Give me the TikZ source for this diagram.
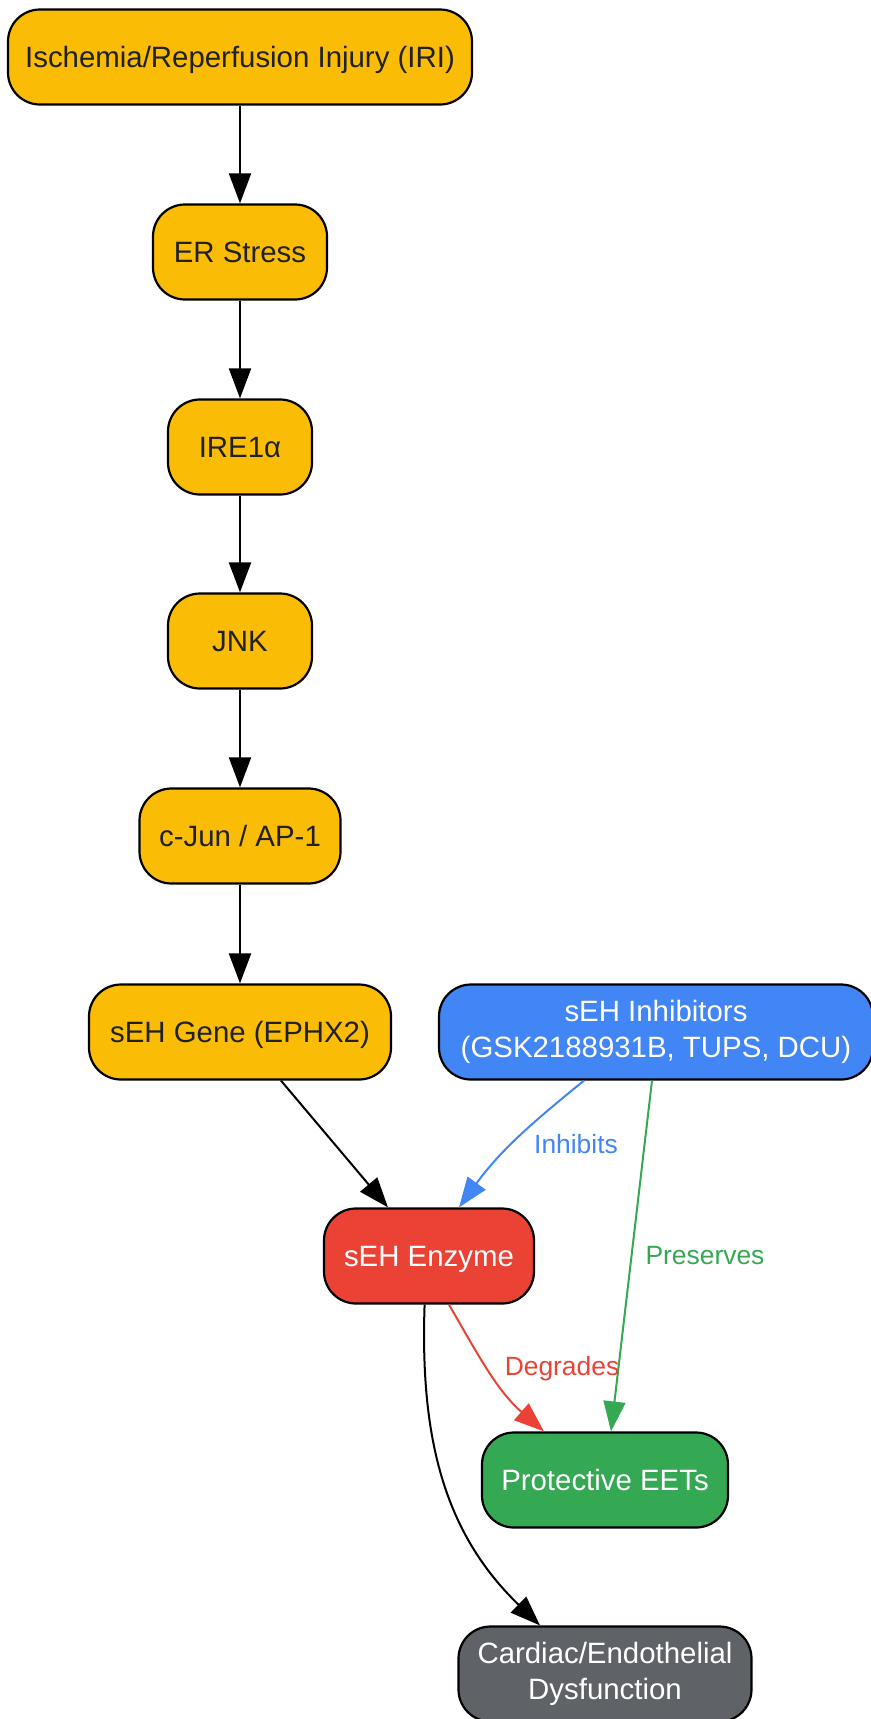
\documentclass[tikz,border=0pt]{standalone}
\usepackage{fontspec}
\setmainfont{Liberation Sans}
\usetikzlibrary{arrows.meta}
\definecolor{gyellow}{HTML}{FBBC05}
\definecolor{gblue}{HTML}{4285F4}
\definecolor{gred}{HTML}{EA4335}
\definecolor{ggreen}{HTML}{34A853}
\definecolor{ggrey}{HTML}{5F6368}
\definecolor{gdark}{HTML}{202124}
\tikzset{
	box/.style={draw=black, line width=1.1pt, rounded corners=16pt, minimum height=47.5pt, inner sep=0pt, align=center, font=\fontsize{14.7}{18}\selectfont,
		execute at begin node={\rule{0pt}{0.905em}}, execute at end node={\rule[-0.212em]{0pt}{0pt}}},
	stage/.style={box, fill=gyellow, text=gdark},
	lbl/.style={font=\fontsize{13.2}{16}\selectfont}
}
\begin{document}
\begin{tikzpicture}[x=0.5pt, y=-0.5pt, >={Triangle[length=15pt, width=11pt]}, line width=1pt]
	\useasboundingbox (0,0) rectangle (871,1719);
	\node [stage, minimum width=232pt] (iri) at (240,57) {Ischemia/Reperfusion Injury (IRI)};
	\node [stage, minimum width=87pt] (er) at (240,252) {ER Stress};
	\node [stage, minimum width=72pt] (ire) at (240,447) {IRE1α};
	\node [stage, minimum width=72pt] (jnk) at (240,641) {JNK};
	\node [stage, minimum width=100.5pt] (jun) at (240,836) {c-Jun / AP-1};
	\node [stage, minimum width=151pt] (gene) at (240,1032) {sEH Gene (EPHX2)};
	\node [box, fill=gblue, text=white, minimum width=217pt] (inh) at (656,1032) {sEH Inhibitors\\(GSK2188931B, TUPS, DCU)};
	\node [box, fill=gred, text=white, minimum width=105pt] (enz) at (429,1256) {sEH Enzyme};
	\node [box, fill=ggreen, text=white, minimum width=123pt] (eet) at (605,1480) {Protective EETs};
	\node [box, fill=ggrey, text=white, minimum width=146.5pt] (dys) at (605,1674) {Cardiac/Endothelial\\Dysfunction};
	\draw [->] (iri) -- (er);
	\draw [->] (er) -- (ire);
	\draw [->] (ire) -- (jnk);
	\draw [->] (jnk) -- (jun);
	\draw [->] (jun) -- (gene);
	\draw [->] (gene) -- (enz);
	\draw [->, gblue] ([xshift=-36pt]inh.south) to [out=219, in=54] ([xshift=15pt]enz.north);
	\draw [->, ggreen] ([xshift=-2pt]inh.south) -- ([xshift=3pt]eet.north);
	\draw [->, gred] ([xshift=10pt]enz.south) to [out=-60, in=139] ([xshift=-30.5pt]eet.north);
	\draw [->] ([xshift=-2.2pt]enz.south) to [out=-92, in=136] ([xshift=-32.5pt]dys.north);
	\node [lbl, text=gblue] (inhlbl) at (576,1144) {Inhibits};
	\node [lbl, text=ggreen] (prelbl) at (705,1256) {Preserves};
	\node [lbl, text=gred] (deglbl) at (562,1369) {Degrades};
\end{tikzpicture}
\end{document}
